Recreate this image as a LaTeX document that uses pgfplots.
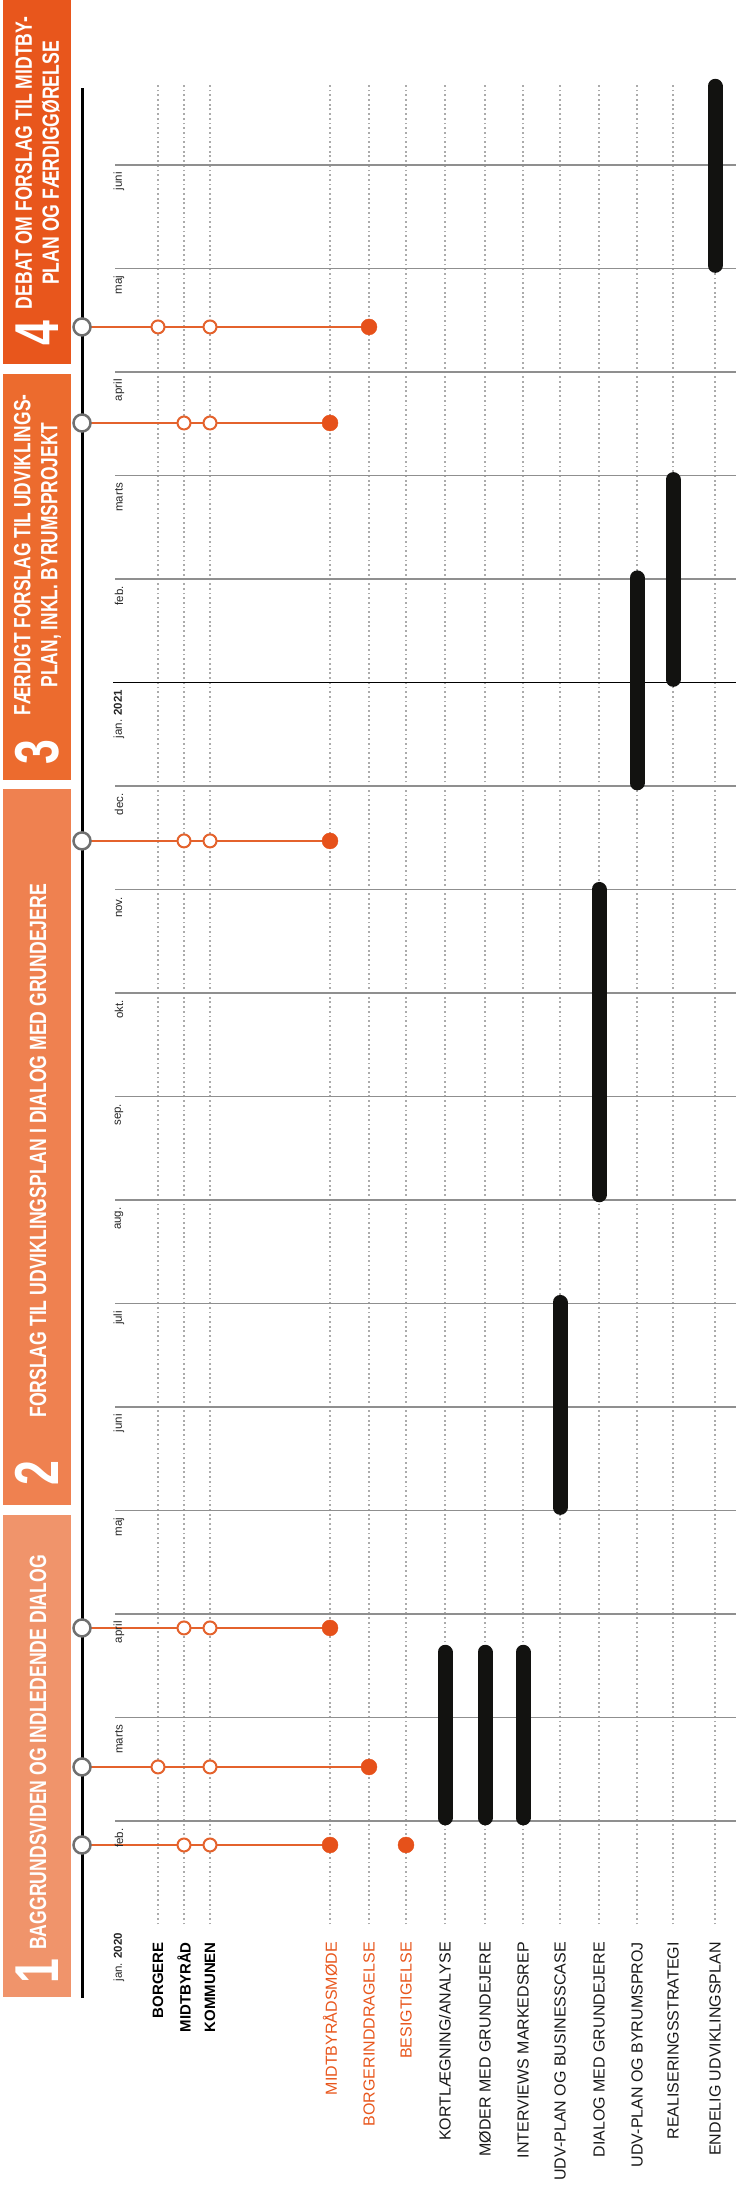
\documentclass[border=0pt]{standalone}
\usepackage{fontspec}
\setmainfont{Liberation Sans}
\usepackage{graphicx}
\usepackage{pgfplots}
\pgfplotsset{compat=1.18}
\definecolor{boxA}{HTML}{F0946B}
\definecolor{boxB}{HTML}{EF8150}
\definecolor{boxC}{HTML}{EC6B2E}
\definecolor{boxD}{HTML}{E8561C}
\definecolor{evorange}{HTML}{E4622C}
\definecolor{dotorange}{HTML}{E6511A}
\definecolor{lblorange}{HTML}{E8561C}
\definecolor{gridgrey}{HTML}{ABABAB}
\definecolor{monthgrey}{HTML}{8F8F8F}
\definecolor{axgrey}{HTML}{707070}
\definecolor{barblack}{HTML}{121210}
\tikzset{
  monthlbl/.style={rotate=90, anchor=east, inner sep=0pt, font=\fontsize{11.5}{12}\selectfont, text=black!85},
  rowlbl/.style={rotate=90, anchor=east, inner sep=0pt, font=\fontsize{16}{18}\selectfont, text=black!90},
  olbl/.style={rotate=90, anchor=east, inner sep=0pt, font=\fontsize{16}{18}\selectfont, text=lblorange},
  blbl/.style={rotate=90, anchor=east, inner sep=0pt, font=\bfseries\fontsize{15}{17}\selectfont, text=black},
  boxtxt/.style={rotate=90, inner sep=0pt, text=white, font=\bfseries\fontsize{23.5}{27}\selectfont},
  boxnum/.style={rotate=90, inner sep=0pt, text=white, font=\bfseries\fontsize{62}{62}\selectfont},
}
\pgfplotsset{
  evline/.style={color=evorange, line width=2pt, mark=none},
  openmk/.style={only marks, mark=*, mark size=6.5pt, mark options={draw=evorange, fill=white, line width=2pt}},
  filledmk/.style={only marks, mark=*, mark size=8pt, mark options={draw=dotorange, fill=dotorange}},
  axismk/.style={only marks, mark=*, mark size=8.5pt, mark options={draw=axgrey, fill=white, line width=2.5pt}},
  bar/.style={color=barblack, line width=15pt, line cap=round, mark=none},
}
\begin{document}
\begin{tikzpicture}
\begin{axis}[
  scale only axis, width=736pt, height=2194pt,
  xmin=0, xmax=736, ymin=-2.604, ymax=18.594,
  hide axis, clip=false, unbounded coords=jump,
]
\path (axis cs:0,-2.604) rectangle (axis cs:736,18.594);
% phase boxes
\addplot[draw=none, fill=boxA] coordinates {(3,-0.700) (71,-0.700) (71,3.957) (3,3.957)} -- cycle;
\addplot[draw=none, fill=boxB] coordinates {(3,4.053) (71,4.053) (71,10.971) (3,10.971)} -- cycle;
\addplot[draw=none, fill=boxC] coordinates {(3,11.058) (71,11.058) (71,14.981) (3,14.981)} -- cycle;
\addplot[draw=none, fill=boxD] coordinates {(3,15.077) (71,15.077) (71,18.594) (3,18.594)} -- cycle;
% dotted column lines
\addplot[gridgrey, line width=1.8pt, dash pattern=on 1.8pt off 2.9pt] coordinates {
(158,0) (158,17.77) (158,nan)
(184,0) (184,17.77) (184,nan)
(210,0) (210,17.77) (210,nan)
(330,0) (330,17.77) (330,nan)
(369,0) (369,17.77) (369,nan)
(406,0) (406,17.77) (406,nan)
(445,0) (445,17.77) (445,nan)
(485,0) (485,17.77) (485,nan)
(523,0) (523,17.77) (523,nan)
(560,0) (560,17.77) (560,nan)
(599,0) (599,17.77) (599,nan)
(637,0) (637,17.77) (637,nan)
(673,0) (673,17.77) (673,nan)
(715,0) (715,17.77)
};
% month lines
\addplot[monthgrey, line width=1.6pt] coordinates {
(115,1) (736,1) (115,nan)
(115,2) (736,2) (115,nan)
(115,3) (736,3) (115,nan)
(115,4) (736,4) (115,nan)
(115,5) (736,5) (115,nan)
(115,6) (736,6) (115,nan)
(115,7) (736,7) (115,nan)
(115,8) (736,8) (115,nan)
(115,9) (736,9) (115,nan)
(115,10) (736,10) (115,nan)
(115,11) (736,11) (115,nan)
(115,13) (736,13) (115,nan)
(115,14) (736,14) (115,nan)
(115,15) (736,15) (115,nan)
(115,16) (736,16) (115,nan)
(115,17) (736,17)
};
\addplot[black, line width=1.6pt] coordinates {(113,12) (736,12)};
% main axis line
\addplot[black, line width=3pt] coordinates {(82,-0.71) (82,17.745)};
% event lines
\addplot[evline] coordinates {(82,0.768) (330,0.768)};
\addplot[evline] coordinates {(82,1.522) (369,1.522)};
\addplot[evline] coordinates {(82,2.865) (330,2.865)};
\addplot[evline] coordinates {(82,10.469) (330,10.469)};
\addplot[evline] coordinates {(82,14.507) (330,14.507)};
\addplot[evline] coordinates {(82,15.435) (369,15.435)};
% markers
\addplot[axismk] coordinates {(82,0.768) (82,1.522) (82,2.865) (82,10.469) (82,14.507) (82,15.435)};
\addplot[openmk] coordinates {(184,0.768) (210,0.768) (158,1.522) (210,1.522) (184,2.865) (210,2.865) (184,10.469) (210,10.469) (184,14.507) (210,14.507) (158,15.435) (210,15.435)};
\addplot[filledmk] coordinates {(330,0.768) (406,0.768) (369,1.522) (330,2.865) (330,10.469) (330,14.507) (369,15.435)};
% activity bars
\addplot[bar] coordinates {(445,1.03) (445,2.63)};
\addplot[bar] coordinates {(485,1.03) (485,2.63)};
\addplot[bar] coordinates {(523,1.03) (523,2.63)};
\addplot[bar] coordinates {(560,4.03) (560,6.01)};
\addplot[bar] coordinates {(599,7.05) (599,10.0)};
\addplot[bar] coordinates {(637,11.03) (637,13.01)};
\addplot[bar] coordinates {(673,12.03) (673,13.96)};
\addplot[bar] coordinates {(715,16.03) (715,17.76)};
% month labels
\node[monthlbl] at (axis cs:119,-0.08) {jan. \textbf{2020}};
\node[monthlbl] at (axis cs:119,0.93) {feb.};
\node[monthlbl] at (axis cs:119,1.93) {marts};
\node[monthlbl] at (axis cs:119,2.93) {april};
\node[monthlbl] at (axis cs:119,3.93) {maj};
\node[monthlbl] at (axis cs:119,4.93) {juni};
\node[monthlbl] at (axis cs:119,5.93) {juli};
\node[monthlbl] at (axis cs:119,6.93) {aug.};
\node[monthlbl] at (axis cs:119,7.93) {sep.};
\node[monthlbl] at (axis cs:119,8.93) {okt.};
\node[monthlbl] at (axis cs:119,9.93) {nov.};
\node[monthlbl] at (axis cs:119,10.93) {dec.};
\node[monthlbl] at (axis cs:119,11.93) {jan. \textbf{2021}};
\node[monthlbl] at (axis cs:119,12.93) {feb.};
\node[monthlbl] at (axis cs:119,13.93) {marts};
\node[monthlbl] at (axis cs:119,14.93) {april};
\node[monthlbl] at (axis cs:119,15.93) {maj};
\node[monthlbl] at (axis cs:119,16.93) {juni};
% row labels
\node[blbl] at (axis cs:158,-0.17) {BORGERE};
\node[blbl] at (axis cs:184,-0.17) {MIDTBYRÅD};
\node[blbl] at (axis cs:210,-0.17) {KOMMUNEN};
\node[olbl] at (axis cs:330,-0.17) {MIDTBYRÅDSMØDE};
\node[olbl] at (axis cs:369,-0.17) {BORGERINDDRAGELSE};
\node[olbl] at (axis cs:406,-0.17) {BESIGTIGELSE};
\node[rowlbl] at (axis cs:445,-0.17) {KORTLÆGNING/ANALYSE};
\node[rowlbl] at (axis cs:485,-0.17) {MØDER MED GRUNDEJERE};
\node[rowlbl] at (axis cs:523,-0.17) {INTERVIEWS MARKEDSREP};
\node[rowlbl] at (axis cs:560,-0.17) {UDV-PLAN OG BUSINESSCASE};
\node[rowlbl] at (axis cs:599,-0.17) {DIALOG MED GRUNDEJERE};
\node[rowlbl] at (axis cs:637,-0.17) {UDV-PLAN OG BYRUMSPROJ};
\node[rowlbl] at (axis cs:673,-0.17) {REALISERINGSSTRATEGI};
\node[rowlbl] at (axis cs:715,-0.17) {ENDELIG UDVIKLINGSPLAN};
% phase box texts
\node[boxnum] at (axis cs:37,-0.449) {\scalebox{0.72}[1]{1}};
\node[boxtxt, anchor=west] at (axis cs:38,-0.246) {\scalebox{0.75}[1]{BAGGRUNDSVIDEN OG INDLEDENDE DIALOG}};
\node[boxnum] at (axis cs:37,4.362) {\scalebox{0.72}[1]{2}};
\node[boxtxt, anchor=west] at (axis cs:38,4.894) {\scalebox{0.75}[1]{FORSLAG TIL UDVIKLINGSPLAN I DIALOG MED GRUNDEJERE}};
\node[boxnum] at (axis cs:37,11.329) {\scalebox{0.72}[1]{3}};
\node[boxtxt, align=center] at (axis cs:37.5,13.232) {\scalebox{0.74}[1]{FÆRDIGT FORSLAG TIL UDVIKLINGS-}\\\scalebox{0.74}[1]{PLAN, INKL. BYRUMSPROJEKT}};
\node[boxnum] at (axis cs:37,15.377) {\scalebox{0.72}[1]{4}};
\node[boxtxt, align=center] at (axis cs:37.5,17.02) {\scalebox{0.75}[1]{DEBAT OM FORSLAG TIL MIDTBY-}\\\scalebox{0.75}[1]{PLAN OG FÆRDIGGØRELSE}};
\end{axis}
\end{tikzpicture}
\end{document}
